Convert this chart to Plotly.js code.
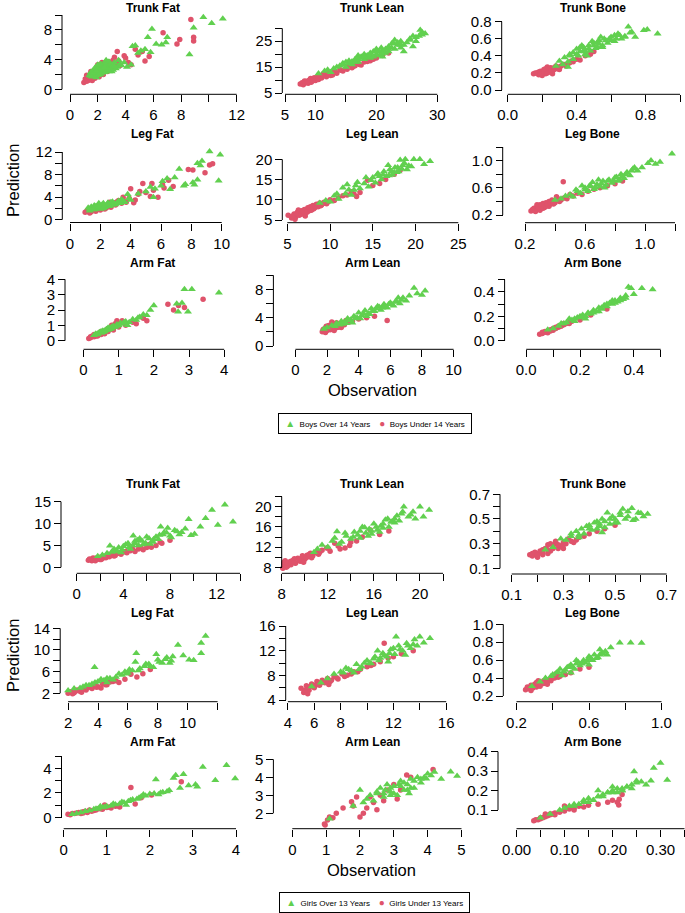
<!DOCTYPE html>
<html><head><meta charset="utf-8">
<script src="https://cdn.plot.ly/plotly-3.0.1.min.js"></script>
<style>html,body{margin:0;padding:0;background:#fff}#chart{width:685px;height:913px}</style>
</head><body><div id="chart"></div>
<script>
// ===== DATA (Observation = x, Prediction = y) =====
// Boys figure
const bTrunkFat_overX=[1.4,1.5,1.6,1.7,1.8,1.9,2.0,2.0,2.1,2.2,2.3,2.3,2.4,2.5,2.6,2.7,2.8,2.9,3.0,3.1,3.2,3.4,3.5,3.7,3.9,4.1,4.4,4.5,4.7,4.9,5.1,5.4,5.6,5.8,5.9,6.2,6.6,6.9,7.0,8.6,8.9,9.6,10.2,11.0,1.6,1.9,2.2,2.6,2.4,3.0,1.7,2.1,1.5,1.7,1.8,2.0,2.1,2.2,2.4,2.5,2.6,2.8,2.9,3.1,3.3,3.6,1.9,2.3,2.7,3.2,2.0,2.5];
const bTrunkFat_overY=[1.9,2.3,1.7,2.6,2.1,2.9,2.4,1.9,3.1,2.6,2.2,3.3,2.8,3.5,2.5,3.0,3.7,2.8,3.3,2.6,3.6,3.0,3.9,3.2,3.6,3.0,3.3,5.8,5.9,4.9,5.2,5.4,7.0,5.0,8.1,6.1,6.0,6.3,7.0,4.7,8.3,9.7,8.9,9.5,2.4,1.6,2.0,3.9,2.3,2.4,1.8,2.3,1.8,2.2,2.9,2.7,2.0,3.4,3.0,2.3,3.3,2.4,3.4,3.2,2.8,3.4,2.5,2.6,2.7,3.1,3.3,2.9];
const bTrunkFat_underX=[1.0,1.1,1.2,1.3,1.4,1.5,1.6,1.7,1.8,1.9,2.0,2.1,2.2,2.3,2.5,2.6,2.8,3.0,3.2,3.4,3.4,3.6,3.9,4.0,4.4,4.7,5.2,5.4,5.7,6.7,7.7,7.9,8.7,8.9,8.9,1.2,1.5,2.4,2.0,2.9,1.3,1.8,1.4,1.6,1.9,2.1,2.4,2.7,3.1,3.5,4.2,4.9];
const bTrunkFat_underY=[0.9,1.4,1.1,1.6,1.3,1.8,1.2,2.0,1.5,2.3,1.9,2.4,2.1,3.6,2.6,3.0,3.7,3.5,4.3,5.1,3.4,3.2,4.5,4.2,3.3,5.4,5.1,3.8,4.4,7.6,6.1,6.7,9.4,7.0,6.5,1.9,2.4,2.0,3.3,2.7,1.2,1.7,1.6,1.5,2.0,1.7,2.8,2.4,3.9,3.8,3.6,4.6];

const bTrunkLean_overX=[10.5,11.5,12.5,13.0,14.0,14.5,15.0,15.5,16.0,16.5,17.0,17.5,18.0,18.0,18.5,19.0,19.5,20.0,20.0,20.5,21.0,21.5,22.0,22.0,22.5,23.0,23.0,23.5,24.0,24.5,25.0,25.5,26.0,26.5,27.0,27.5,28.0,27.2,26.0,24.0,17.0,15.0,19.0,21.0,16.8,18.6,20.8,22.8,12.0,13.5,14.5,15.5,16.0,17.0,17.5,18.5,19.0,19.5,20.5,21.0,21.5,22.5,23.5,24.5,25.5,26.5,27.5,16.5,18.0,20.0,22.0,24.0];
const bTrunkLean_overY=[12.5,13.5,13.0,14.5,15.5,16.5,15.0,17.5,16.0,18.0,17.0,19.0,18.0,20.0,19.5,18.5,21.0,20.0,22.0,19.5,21.5,20.5,23.0,21.0,24.0,22.0,25.5,23.5,22.5,21.0,24.5,25.5,23.0,26.5,27.0,28.5,28.0,29.3,27.0,25.0,19.5,17.0,20.5,19.0,17.8,19.2,22.5,24.2,14.0,15.0,15.8,16.5,17.2,18.0,18.5,18.8,19.8,19.0,21.0,20.2,22.0,22.5,24.5,23.5,26.0,25.0,27.5,17.0,19.0,21.0,22.0,23.5];
const bTrunkLean_underX=[7.5,7.8,8.0,8.3,8.5,8.8,9.0,9.3,9.6,10.0,10.2,10.5,10.8,11.0,11.5,11.8,12.2,12.5,13.0,13.5,14.0,14.5,15.0,15.5,16.0,16.5,17.0,17.5,18.0,19.0,20.0,21.0,22.0,9.2,11.3,12.8,8.2,9.8,10.6,8.7,9.5,10.4,11.2,12.0,13.2,14.2,15.2,16.2,17.2,18.5,19.5];
const bTrunkLean_underY=[8.5,9.0,8.2,8.9,9.5,8.8,10.0,9.2,10.5,9.8,11.0,10.2,11.5,10.8,12.0,11.3,12.5,11.8,13.0,12.6,14.0,13.5,14.5,15.8,14.8,15.5,16.5,15.8,17.0,17.5,18.5,19.5,20.5,10.6,12.4,12.0,9.6,10.9,11.6,9.2,9.6,10.6,11.6,12.2,13.3,13.8,14.2,15.2,16.0,17.2,18.0];

const bTrunkBone_overX=[0.28,0.3,0.32,0.33,0.35,0.36,0.38,0.4,0.41,0.42,0.44,0.45,0.47,0.48,0.5,0.51,0.53,0.55,0.56,0.58,0.6,0.62,0.64,0.66,0.7,0.71,0.74,0.79,0.81,0.87,0.38,0.43,0.46,0.52,0.54,0.59,0.35,0.49,0.62,0.68,0.4,0.42,0.44,0.47,0.5,0.52,0.55,0.57,0.6,0.63,0.65,0.68,0.72,0.36,0.45,0.53];
const bTrunkBone_overY=[0.28,0.34,0.3,0.38,0.33,0.42,0.36,0.48,0.4,0.45,0.5,0.42,0.52,0.46,0.55,0.49,0.58,0.52,0.6,0.55,0.62,0.57,0.66,0.6,0.74,0.67,0.62,0.7,0.71,0.66,0.44,0.52,0.4,0.5,0.62,0.6,0.27,0.57,0.64,0.63,0.42,0.5,0.46,0.48,0.52,0.56,0.5,0.58,0.58,0.6,0.64,0.62,0.68,0.4,0.45,0.54];
const bTrunkBone_underX=[0.15,0.17,0.18,0.19,0.2,0.21,0.22,0.23,0.24,0.25,0.26,0.27,0.28,0.29,0.3,0.32,0.34,0.36,0.38,0.4,0.42,0.45,0.48,0.5,0.2,0.23,0.26,0.18,0.22,0.3,0.16,0.19,0.21,0.23,0.25,0.27,0.31,0.33,0.35,0.37];
const bTrunkBone_underY=[0.19,0.2,0.18,0.22,0.2,0.24,0.19,0.23,0.21,0.26,0.22,0.24,0.28,0.25,0.27,0.3,0.28,0.32,0.33,0.36,0.35,0.4,0.42,0.45,0.17,0.27,0.19,0.21,0.25,0.24,0.2,0.19,0.22,0.2,0.23,0.26,0.28,0.3,0.31,0.34];

const bLegFat_overX=[1.2,1.3,1.4,1.5,1.6,1.7,1.8,1.9,2.0,2.1,2.2,2.3,2.4,2.5,2.6,2.7,2.8,3.0,3.2,3.4,3.6,3.8,4.0,4.5,5.0,5.3,5.5,5.6,6.0,6.1,6.4,6.6,6.9,7.2,7.5,7.6,8.1,8.2,8.4,8.4,8.7,8.6,9.2,9.9,9.8,1.6,2.0,2.6,3.3,1.9,1.3,1.5,1.7,1.9,2.1,2.3,2.5,2.7,2.9,3.1,3.5,3.9,2.2,2.8];
const bLegFat_overY=[2.1,1.6,2.3,1.8,2.5,2.0,2.2,2.7,1.9,2.4,2.9,2.2,2.6,3.0,2.4,2.8,3.2,2.7,3.3,3.6,3.1,4.5,3.5,4.6,5.0,5.8,4.0,5.5,6.0,6.8,7.3,5.4,7.5,9.0,6.0,6.3,6.6,6.2,7.1,10.0,10.4,9.6,12.1,11.5,6.9,1.8,2.1,2.5,2.9,2.9,1.9,2.0,2.4,2.3,2.6,2.5,2.7,3.1,2.9,3.0,3.3,3.8,2.0,2.6];
const bLegFat_underX=[1.0,1.2,1.4,1.5,1.7,1.8,2.0,2.1,2.3,2.5,2.7,2.9,3.0,3.2,3.5,3.7,4.0,4.2,4.3,4.5,4.8,5.0,5.3,5.4,5.5,5.8,6.1,6.2,6.5,6.8,7.8,8.1,8.9,9.2,9.4,1.3,1.9,2.6,3.4,2.2,1.1,1.6,2.4,2.8,3.1,3.6,3.9,4.6];
const bLegFat_underY=[1.3,1.6,1.4,1.9,1.5,2.0,1.7,2.3,1.9,2.5,2.2,3.0,2.6,3.4,4.0,3.1,5.5,3.0,3.5,4.5,6.4,4.8,4.1,6.4,5.2,4.0,6.2,5.6,7.0,5.9,8.9,8.8,8.3,9.7,9.9,1.2,2.5,3.1,2.9,2.0,1.5,1.8,2.1,2.7,3.2,3.3,3.8,5.0];

const bLegLean_overX=[8.8,9.5,10.0,10.5,11.0,11.5,11.8,12.2,12.5,13.0,13.5,14.0,14.5,15.0,15.3,15.6,16.0,16.3,16.6,17.0,17.3,17.6,18.0,18.2,18.5,18.8,19.0,19.8,20.5,21.0,21.7,16.8,15.5,14.2,13.2,17.8,19.5,12.0,14.8,15.8,16.2,16.9,17.2,17.5,17.9,18.4,18.7,19.2,10.8,12.8];
const bLegLean_overY=[9.2,9.8,9.5,11.0,10.2,13.0,11.5,12.5,11.2,13.5,12.8,14.0,13.2,15.5,14.2,16.5,15.0,17.0,15.8,17.5,16.2,18.0,17.0,19.8,18.5,20.0,17.5,20.0,20.0,18.8,19.5,18.5,16.2,15.5,14.3,16.8,18.2,13.8,14.8,15.8,16.2,16.0,17.0,16.8,18.0,17.6,19.0,18.4,11.5,12.4];
const bLegLean_underX=[5.1,5.5,5.8,6.0,6.2,6.4,6.5,6.7,6.9,7.0,7.2,7.4,7.5,7.7,7.9,8.0,8.2,8.4,8.6,8.8,9.0,9.3,9.6,10.0,10.5,11.0,11.5,12.0,12.5,12.8,13.1,13.5,14.4,15.0,15.8,16.5,17.5,18.2,5.9,6.3,7.1,8.1,5.6,6.1,6.6,6.8,7.3,7.6,7.8,8.3,8.5,8.9,9.2,9.8];
const bLegLean_underY=[6.2,5.5,6.5,5.8,7.0,6.2,6.8,7.3,6.5,7.6,7.0,8.0,7.2,8.3,7.6,8.6,8.0,8.9,8.3,9.2,8.7,9.4,9.0,10.0,9.8,10.5,11.0,11.2,12.0,11.4,10.8,11.8,14.8,13.5,14.0,15.0,16.3,17.3,5.2,7.5,6.0,7.8,6.0,6.6,6.4,7.1,6.9,7.9,7.4,8.4,8.7,8.5,9.1,9.5];

const bLegBone_overX=[0.4,0.44,0.47,0.5,0.52,0.55,0.57,0.6,0.62,0.64,0.66,0.68,0.7,0.72,0.74,0.76,0.78,0.8,0.82,0.84,0.86,0.88,0.9,0.92,0.95,0.98,1.02,1.04,1.07,1.1,1.18,0.58,0.65,0.73,0.83,0.93,0.54,0.69,0.6,0.63,0.67,0.71,0.75,0.79,0.81,0.85,0.87,0.91];
const bLegBone_overY=[0.42,0.44,0.48,0.5,0.47,0.55,0.52,0.6,0.55,0.62,0.58,0.65,0.62,0.7,0.64,0.72,0.67,0.75,0.7,0.8,0.74,0.83,0.78,0.88,0.85,0.9,0.96,1.0,0.95,0.98,1.1,0.63,0.68,0.6,0.72,0.9,0.57,0.72,0.57,0.63,0.6,0.66,0.7,0.71,0.76,0.77,0.8,0.85];
const bLegBone_underX=[0.24,0.26,0.27,0.28,0.29,0.3,0.31,0.32,0.33,0.34,0.35,0.36,0.37,0.38,0.4,0.42,0.44,0.46,0.48,0.5,0.52,0.55,0.58,0.62,0.66,0.7,0.75,0.8,0.85,0.455,0.3,0.33,0.28,0.36,0.41,0.25,0.27,0.29,0.31,0.32,0.34,0.35,0.37,0.39,0.43];
const bLegBone_underY=[0.26,0.3,0.28,0.33,0.3,0.35,0.32,0.37,0.31,0.38,0.34,0.4,0.36,0.42,0.38,0.44,0.42,0.45,0.44,0.5,0.48,0.52,0.5,0.55,0.58,0.6,0.63,0.66,0.7,0.69,0.27,0.34,0.35,0.33,0.47,0.28,0.25,0.31,0.34,0.3,0.33,0.36,0.38,0.36,0.4];

const bArmFat_overX=[0.3,0.35,0.4,0.45,0.5,0.55,0.6,0.65,0.7,0.75,0.8,0.85,0.9,0.95,1.0,1.05,1.1,1.2,1.3,1.4,1.5,1.6,1.7,1.8,1.9,2.0,2.65,2.69,2.8,2.97,2.87,3.08,3.85,0.5,0.7,1.25,1.55,0.4,0.55,0.65,0.75,0.85,0.95,1.05,1.15,0.6,0.8];
const bArmFat_overY=[0.35,0.45,0.4,0.55,0.5,0.65,0.6,0.75,0.7,0.85,0.8,0.95,0.9,1.05,1.0,1.15,1.1,1.25,1.2,1.4,1.35,1.55,1.7,1.65,2.0,2.3,2.4,1.89,2.45,1.89,3.35,3.35,3.13,0.6,0.85,1.0,1.5,0.45,0.55,0.7,0.75,0.9,0.95,1.1,1.2,0.65,0.9];
const bArmFat_underX=[0.15,0.2,0.25,0.3,0.35,0.4,0.45,0.5,0.55,0.6,0.65,0.7,0.75,0.8,0.85,0.9,1.0,1.1,1.2,1.4,1.5,1.7,1.8,2.4,2.56,2.7,2.87,3.4,0.3,0.5,0.7,0.95,0.2,0.35,0.45,0.6,0.8,1.0];
const bArmFat_underY=[0.15,0.2,0.3,0.25,0.4,0.3,0.5,0.4,0.6,0.5,0.7,0.6,0.8,1.0,0.7,1.1,0.9,1.3,1.0,1.2,1.1,1.46,1.3,2.37,2.0,2.3,2.17,2.7,0.4,0.6,0.8,1.3,0.25,0.3,0.45,0.45,0.75,1.05];

const bArmLean_overX=[1.8,2.0,2.3,2.6,2.9,3.1,3.3,3.5,3.7,3.9,4.0,4.2,4.4,4.6,4.8,5.0,5.2,5.4,5.6,5.8,6.0,6.2,6.4,6.6,6.8,7.0,7.2,7.5,7.7,8.0,8.2,4.1,4.7,5.3,5.9,6.5,3.6,2.8,3.0,3.4,3.8,4.3,4.5,4.9,5.1,5.5,5.7,6.1,6.3,6.7,2.5,3.2];
const bArmLean_overY=[2.4,2.6,2.9,3.2,3.5,3.4,3.9,3.7,4.2,4.0,4.7,4.3,5.0,4.6,5.3,4.9,5.6,5.1,5.9,5.4,6.1,5.7,6.3,6.0,6.8,6.4,7.1,8.2,7.4,7.2,7.8,3.9,4.5,5.5,5.9,6.8,3.3,3.0,3.1,3.6,3.9,4.6,4.2,5.0,5.3,5.4,5.6,5.9,6.2,6.5,2.8,3.2];
const bArmLean_underX=[1.7,1.8,1.9,2.0,2.0,2.1,2.2,2.3,2.4,2.5,2.6,2.7,2.8,3.0,3.2,3.4,3.6,4.0,4.5,5.0,5.8,1.85,2.15,2.45,2.9,2.3,1.75,1.9,2.05,2.2,2.35,2.5,2.65,2.8,3.1,1.95];
const bArmLean_underY=[2.0,2.4,1.9,2.6,2.2,2.9,2.3,2.7,3.1,2.5,3.3,2.8,3.0,3.2,3.6,3.4,3.5,3.8,4.0,4.2,3.6,2.1,2.5,2.2,2.6,3.4,2.3,2.1,2.4,2.7,2.4,2.9,2.6,2.7,3.0,2.8];

const bArmBone_overX=[0.08,0.1,0.12,0.14,0.15,0.17,0.18,0.19,0.2,0.21,0.22,0.23,0.24,0.25,0.26,0.27,0.28,0.29,0.3,0.31,0.32,0.33,0.34,0.35,0.36,0.37,0.38,0.39,0.43,0.47,0.16,0.22,0.27,0.32,0.4,0.13,0.18,0.2,0.23,0.25,0.28,0.3,0.33,0.35,0.37];
const bArmBone_overY=[0.09,0.1,0.12,0.14,0.15,0.17,0.16,0.19,0.2,0.21,0.2,0.23,0.22,0.25,0.24,0.27,0.26,0.29,0.28,0.31,0.3,0.33,0.32,0.35,0.34,0.37,0.44,0.43,0.43,0.42,0.18,0.18,0.24,0.33,0.38,0.14,0.18,0.19,0.22,0.23,0.27,0.3,0.31,0.33,0.35];
const bArmBone_underX=[0.05,0.06,0.07,0.08,0.08,0.09,0.1,0.1,0.11,0.12,0.13,0.14,0.15,0.16,0.17,0.2,0.24,0.3,0.07,0.12,0.06,0.09,0.11,0.13,0.14,0.16];
const bArmBone_underY=[0.053,0.06,0.07,0.065,0.08,0.09,0.085,0.1,0.1,0.11,0.12,0.13,0.14,0.15,0.16,0.17,0.21,0.26,0.075,0.12,0.07,0.08,0.11,0.12,0.14,0.14];

// Girls figure
const gTrunkFat_overX=[1.8,2.2,2.6,2.85,3.0,3.3,3.6,3.9,4.2,4.5,4.85,5.0,5.3,5.6,5.9,6.2,6.5,6.8,7.0,7.2,7.4,7.7,8.1,8.4,8.8,9.3,9.6,9.8,10.1,10.6,11.05,11.6,12.1,12.7,13.4,3.8,4.6,5.4,6.3,7.8,3.2,3.5,4.0,4.4,4.8,5.2,5.7,6.0,6.6,7.1,7.5,8.0,8.6,9.0,5.0,6.5];
const gTrunkFat_overY=[2.5,2.8,3.2,4.9,3.5,3.8,4.5,4.0,5.2,4.6,7.2,5.5,5.0,6.0,5.5,6.6,6.0,7.0,6.4,9.3,7.5,7.9,6.8,8.5,7.5,8.8,11.0,7.3,7.6,9.3,11.2,13.1,9.7,14.3,10.4,3.4,4.2,6.6,5.3,9.0,4.2,3.6,4.8,5.5,5.0,6.2,5.2,7.0,6.4,7.4,8.0,7.2,8.2,8.0,6.0,5.8];
const gTrunkFat_underX=[1.0,1.2,1.3,1.5,1.6,1.8,1.9,2.0,2.2,2.3,2.5,2.6,2.8,3.0,3.2,3.4,3.6,3.8,4.0,4.3,4.6,5.0,5.3,5.7,6.0,6.4,6.8,7.15,7.3,8.0,1.4,2.1,2.7,3.3,1.1,1.4,1.7,2.0,2.4,2.9,3.5,4.2,4.8,5.5,6.2,1.6,2.2];
const gTrunkFat_underY=[1.6,1.8,1.5,2.0,1.7,2.2,1.9,2.3,2.0,2.5,2.2,2.7,2.4,2.9,2.6,3.1,3.3,3.0,3.5,3.3,3.8,3.6,4.2,4.0,4.5,4.6,5.0,5.8,5.5,6.2,2.1,1.8,3.0,2.7,1.9,1.6,2.1,1.8,2.3,2.7,3.2,3.6,4.1,4.6,5.2,1.5,2.3];

const gTrunkLean_overX=[10.8,11.1,11.5,12.0,12.4,12.8,13.2,13.6,14.0,14.3,14.6,15.0,15.3,15.6,16.0,16.3,16.6,17.0,17.3,17.6,18.0,18.2,18.6,19.0,19.2,19.6,20.0,20.3,20.8,14.8,15.8,16.8,17.8,13.0,12.6,18.5,13.5,14.2,14.8,15.2,15.8,16.2,16.8,17.2,17.8,18.4,19.4,15.5,16.5,17.5];
const gTrunkLean_overY=[11.0,11.6,12.4,12.0,13.2,15.1,13.0,14.2,13.6,15.0,14.4,16.0,14.8,15.6,16.6,15.4,16.2,17.4,16.0,17.0,18.2,17.2,20.0,18.0,18.4,17.6,20.0,18.0,19.35,13.8,14.6,15.8,16.8,12.6,13.8,19.0,14.8,14.0,15.2,15.9,15.2,16.0,16.6,17.6,17.6,18.6,19.0,14.2,15.0,17.0];
const gTrunkLean_underX=[8.1,8.2,8.3,8.5,8.6,8.8,9.0,9.2,9.4,9.6,9.8,10.0,10.2,10.3,10.5,10.7,11.0,11.2,11.5,11.9,12.2,12.6,13.07,13.5,13.9,14.5,15.0,15.7,16.5,17.3,8.4,9.1,9.9,10.6,8.2,8.5,8.8,9.1,9.5,9.8,10.1,10.4,10.9,11.3,12.0,12.9,14.0];
const gTrunkLean_underY=[7.8,8.6,9.3,8.2,9.0,8.5,9.4,8.8,9.8,9.2,10.0,9.6,10.4,10.1,10.8,10.3,11.0,10.6,11.4,11.8,11.2,12.75,11.6,11.8,12.3,13.2,14.0,15.4,14.5,15.2,8.0,9.7,9.0,9.9,9.0,8.8,9.2,8.9,9.5,10.3,9.9,10.6,10.9,11.0,11.8,12.2,13.0];

const gTrunkBone_overX=[0.23,0.26,0.29,0.31,0.33,0.35,0.37,0.38,0.4,0.41,0.42,0.44,0.45,0.46,0.47,0.48,0.5,0.51,0.52,0.54,0.55,0.565,0.57,0.59,0.6,0.626,0.45,0.39,0.53,0.43,0.49,0.36,0.33,0.36,0.4,0.43,0.46,0.48,0.5,0.52,0.55,0.58,0.61,0.44];
const gTrunkBone_overY=[0.25,0.27,0.34,0.33,0.36,0.4,0.42,0.38,0.45,0.41,0.47,0.44,0.5,0.43,0.55,0.46,0.5,0.47,0.53,0.5,0.56,0.587,0.49,0.55,0.546,0.54,0.39,0.44,0.58,0.48,0.52,0.35,0.38,0.37,0.42,0.42,0.48,0.5,0.47,0.55,0.52,0.5,0.52,0.46];
const gTrunkBone_underX=[0.17,0.18,0.19,0.2,0.21,0.22,0.23,0.24,0.25,0.26,0.27,0.28,0.29,0.3,0.31,0.32,0.34,0.36,0.38,0.4,0.43,0.46,0.5,0.2,0.24,0.27,0.3,0.22,0.18,0.2,0.22,0.24,0.26,0.28,0.3,0.33,0.35,0.25];
const gTrunkBone_underY=[0.21,0.2,0.23,0.22,0.24,0.21,0.26,0.29,0.24,0.27,0.3,0.26,0.28,0.26,0.3,0.34,0.31,0.35,0.36,0.38,0.4,0.42,0.45,0.19,0.22,0.32,0.29,0.25,0.22,0.21,0.23,0.25,0.26,0.29,0.31,0.32,0.33,0.3];

const gLegFat_overX=[2.0,2.4,2.8,3.2,3.6,3.77,4.0,4.4,4.8,5.2,5.6,6.0,6.3,6.56,6.8,7.1,7.4,7.7,8.0,8.3,8.6,8.9,9.35,9.7,10.1,10.4,10.9,10.9,11.2,5.0,6.5,7.9,8.8,4.6,5.8,3.0,3.4,3.8,4.2,4.6,5.4,5.9,6.1,6.7,7.2,7.5,8.1,8.5,9.0];
const gLegFat_overY=[2.5,2.9,3.0,3.5,3.7,6.8,4.2,4.4,4.8,5.0,5.4,5.8,6.2,9.4,6.6,7.0,7.4,6.8,8.2,7.6,8.6,8.0,10.9,9.0,8.2,8.1,11.3,9.4,12.6,4.5,7.8,9.2,7.6,4.0,6.0,3.2,3.5,4.0,4.6,4.8,5.6,5.6,6.4,6.2,7.4,7.0,7.8,8.3,8.8];
const gLegFat_underX=[2.0,2.2,2.4,2.6,2.8,3.0,3.2,3.4,3.6,3.8,4.0,4.3,4.6,5.0,5.4,5.8,6.2,6.6,7.0,7.5,2.3,2.9,3.5,4.2,2.1,2.5,2.7,3.1,3.3,3.7,3.9,4.5,4.8,5.2];
const gLegFat_underY=[2.0,2.3,2.1,2.6,2.4,2.9,2.6,3.2,2.9,3.5,3.2,3.8,3.6,4.2,4.0,4.6,5.5,5.0,5.6,6.4,1.9,2.2,3.4,3.0,2.2,2.4,2.5,2.8,3.0,3.3,3.1,3.6,4.1,4.3];

const gLegLean_overX=[5.8,6.5,7.0,7.5,8.0,8.4,8.8,9.2,9.6,10.0,10.3,10.6,10.9,11.2,11.5,11.8,12.1,12.4,12.7,13.0,13.3,13.6,13.8,14.0,14.3,14.77,9.0,10.8,12.2,12.9,11.6,8.2,8.6,9.4,9.8,10.2,10.5,11.0,11.3,11.7,12.0,12.5,13.1,13.5];
const gLegLean_overY=[6.2,6.8,7.5,8.2,8.6,9.2,8.8,9.8,9.4,10.4,9.9,11.0,10.4,11.6,11.0,12.2,11.4,12.8,12.0,13.2,12.4,13.8,12.8,14.26,13.3,14.0,8.4,12.0,14.26,11.3,10.2,8.4,9.0,9.0,10.0,10.0,10.7,10.8,11.2,11.6,12.4,12.2,12.8,13.0];
const gLegLean_underX=[5.0,5.2,5.4,5.6,5.8,6.0,6.2,6.4,6.6,6.8,7.0,7.2,7.5,7.8,8.1,8.5,9.0,9.5,10.0,10.5,11.0,11.3,11.6,12.0,12.6,13.5,5.5,6.3,7.1,5.3,5.7,6.1,6.5,6.9,7.3,7.7,8.3,8.8,9.3,10.3];
const gLegLean_underY=[5.9,5.2,6.3,5.6,6.6,6.0,7.0,6.4,7.2,6.8,7.5,7.0,7.8,7.4,8.2,8.0,8.6,9.0,9.4,9.8,10.2,13.2,10.8,11.0,11.5,12.0,5.0,6.8,6.5,5.6,6.2,6.4,6.8,7.0,7.2,7.6,7.8,8.2,8.6,9.6];

const gLegBone_overX=[0.285,0.33,0.36,0.39,0.42,0.44,0.46,0.48,0.5,0.52,0.54,0.55,0.57,0.58,0.6,0.62,0.63,0.65,0.67,0.69,0.7,0.72,0.77,0.83,0.89,0.45,0.53,0.6,0.66,0.5,0.4,0.43,0.47,0.49,0.51,0.53,0.56,0.59,0.61,0.64,0.66,0.68];
const gLegBone_overY=[0.31,0.36,0.4,0.42,0.46,0.5,0.47,0.52,0.55,0.5,0.58,0.54,0.6,0.57,0.64,0.6,0.66,0.63,0.68,0.7,0.66,0.74,0.795,0.795,0.79,0.43,0.6,0.55,0.72,0.46,0.44,0.47,0.49,0.53,0.52,0.56,0.56,0.6,0.62,0.62,0.66,0.67];
const gLegBone_underX=[0.25,0.26,0.27,0.28,0.29,0.3,0.31,0.32,0.33,0.34,0.35,0.36,0.38,0.4,0.42,0.44,0.47,0.5,0.55,0.6,0.28,0.32,0.37,0.26,0.28,0.3,0.31,0.33,0.35,0.37,0.39,0.41,0.43];
const gLegBone_underY=[0.27,0.3,0.28,0.32,0.29,0.33,0.3,0.35,0.31,0.34,0.37,0.35,0.38,0.4,0.45,0.42,0.44,0.46,0.5,0.52,0.26,0.37,0.33,0.29,0.3,0.31,0.35,0.33,0.34,0.36,0.37,0.4,0.41];

const gArmFat_overX=[0.2,0.3,0.4,0.5,0.6,0.7,0.8,0.9,1.0,1.1,1.2,1.3,1.4,1.5,1.6,1.7,1.8,1.9,2.0,2.14,2.25,2.4,2.55,2.6,2.78,3.06,3.23,3.52,3.78,3.98,3.1,2.2,1.45,0.85,0.75,0.95,1.15,1.35,1.55,1.75,1.85,2.1,2.3,2.45,2.7,2.9];
const gArmFat_overY=[0.25,0.3,0.4,0.5,0.55,0.65,0.7,0.8,0.9,0.95,1.05,1.1,1.2,1.3,1.45,1.5,1.7,1.75,1.9,3.09,2.0,2.1,3.2,3.44,3.52,2.68,4.1,3.03,4.25,3.17,2.5,1.85,1.0,0.9,0.7,0.85,1.1,1.25,1.4,1.6,1.85,1.95,2.05,2.2,2.4,2.6];
const gArmFat_underX=[0.1,0.15,0.2,0.3,0.35,0.4,0.5,0.55,0.6,0.7,0.8,0.9,1.0,1.1,1.2,1.3,1.56,1.66,1.8,2.04,2.73,0.45,0.75,0.95,0.25,0.45,0.65,0.85,1.05,1.15,1.25];
const gArmFat_underY=[0.25,0.2,0.3,0.35,0.4,0.3,0.5,0.4,0.6,0.55,0.7,0.65,0.8,0.75,0.9,0.85,2.44,1.08,1.6,1.81,2.9,0.45,0.6,1.0,0.3,0.35,0.5,0.7,0.85,1.0,0.95];

const gArmLean_overX=[1.1,1.8,2.0,2.2,2.4,2.5,2.6,2.7,2.8,2.9,3.0,3.1,3.2,3.3,3.4,3.5,3.6,3.7,3.8,3.96,4.0,4.2,4.4,4.68,4.87,2.3,2.75,3.15,3.45,3.9,2.1,2.5,2.7,2.9,3.0,3.2,3.3,3.5,3.6,3.8,4.1,3.4,2.9];
const gArmLean_overY=[1.7,2.4,3.3,2.8,2.7,3.1,3.4,2.9,3.6,3.2,3.5,3.0,3.8,3.3,3.6,3.9,3.4,4.0,3.7,3.92,4.2,4.3,3.9,4.31,4.07,3.0,3.3,3.6,3.1,4.0,2.6,3.2,3.1,3.4,3.1,3.5,3.7,3.4,3.8,3.9,4.1,3.3,3.0];
const gArmLean_underX=[0.95,0.97,1.04,1.1,1.2,1.3,1.5,1.75,1.8,1.9,2.0,2.1,2.2,2.3,2.4,2.5,2.6,2.7,2.8,3.0,3.1,3.2,3.38,3.5,4.16];
const gArmLean_underY=[1.4,1.35,1.63,1.8,1.75,2.0,2.3,2.64,2.4,2.9,1.8,2.0,2.3,2.9,2.6,2.2,3.0,2.7,3.3,3.6,2.8,3.3,4.13,4.0,4.44];

const gArmBone_overX=[0.05,0.07,0.09,0.1,0.11,0.12,0.13,0.14,0.15,0.16,0.17,0.18,0.19,0.2,0.21,0.22,0.23,0.24,0.245,0.25,0.26,0.27,0.28,0.286,0.3,0.314,0.15,0.2,0.22,0.17,0.12,0.14,0.16,0.17,0.18,0.19,0.2,0.21,0.22,0.23,0.24,0.25];
const gArmBone_overY=[0.06,0.08,0.1,0.11,0.12,0.13,0.13,0.14,0.16,0.15,0.17,0.18,0.19,0.2,0.19,0.21,0.22,0.21,0.298,0.25,0.246,0.23,0.25,0.316,0.342,0.255,0.14,0.22,0.2,0.2,0.12,0.15,0.15,0.17,0.17,0.19,0.19,0.21,0.2,0.22,0.23,0.24];
const gArmBone_underX=[0.036,0.045,0.05,0.055,0.06,0.065,0.07,0.075,0.08,0.09,0.1,0.11,0.12,0.13,0.14,0.15,0.17,0.19,0.2,0.21,0.213,0.214,0.22,0.06,0.1,0.04,0.05,0.06,0.07,0.08,0.09,0.1,0.11,0.12,0.13];
const gArmBone_underY=[0.045,0.05,0.055,0.06,0.065,0.07,0.075,0.08,0.085,0.09,0.1,0.105,0.11,0.12,0.115,0.125,0.13,0.14,0.15,0.14,0.126,0.155,0.18,0.08,0.12,0.05,0.06,0.07,0.08,0.075,0.09,0.095,0.11,0.1,0.12];

// ===== Tick values / labels =====
const bTrunkFat_xt=[0,2,4,6,8,10,12], bTrunkFat_xl=['0','2','4','6','8','','12'];
const bTrunkFat_yt=[0,2,4,6,8,10], bTrunkFat_yl=['0','','4','','8',''];
const bTrunkLean_xt=[5,10,15,20,25,30], bTrunkLean_xl=['5','10','','20','','30'];
const bTrunkLean_yt=[5,10,15,20,25,30], bTrunkLean_yl=['5','','15','','25',''];
const bTrunkBone_xt=[0,0.2,0.4,0.6,0.8,1.0], bTrunkBone_xl=['0.0','','0.4','','0.8',''];
const bTrunkBone_yt=[0,0.2,0.4,0.6,0.8], bTrunkBone_yl=['0.0','0.2','0.4','0.6','0.8'];
const bLegFat_xt=[0,2,4,6,8,10], bLegFat_xl=['0','2','4','6','8','10'];
const bLegFat_yt=[0,2,4,6,8,10,12], bLegFat_yl=['0','','4','','8','','12'];
const bLegLean_xt=[5,10,15,20,25], bLegLean_xl=['5','10','15','20','25'];
const bLegLean_yt=[5,10,15,20], bLegLean_yl=['5','10','15','20'];
const bLegBone_xt=[0.2,0.4,0.6,0.8,1.0,1.2], bLegBone_xl=['0.2','','0.6','','1.0',''];
const bLegBone_yt=[0.2,0.4,0.6,0.8,1.0,1.2], bLegBone_yl=['0.2','','0.6','','1.0',''];
const bArmFat_xt=[0,1,2,3,4], bArmFat_xl=['0','1','2','3','4'];
const bArmFat_yt=[0,1,2,3,4], bArmFat_yl=['0','1','2','3','4'];
const bArmLean_xt=[0,2,4,6,8,10], bArmLean_xl=['0','2','4','6','8','10'];
const bArmLean_yt=[0,2,4,6,8,10], bArmLean_yl=['0','','4','','8',''];
const bArmBone_xt=[0,0.1,0.2,0.3,0.4,0.5], bArmBone_xl=['0.0','','0.2','','0.4',''];
const bArmBone_yt=[0,0.1,0.2,0.3,0.4,0.5], bArmBone_yl=['0.0','','0.2','','0.4',''];

const gTrunkFat_xt=[0,2,4,6,8,10,12,14], gTrunkFat_xl=['0','','4','','8','','12',''];
const gTrunkFat_yt=[0,5,10,15], gTrunkFat_yl=['0','5','10','15'];
const gTrunkLean_xt=[8,10,12,14,16,18,20,22], gTrunkLean_xl=['8','','12','','16','','20',''];
const gTrunkLean_yt=[8,10,12,14,16,18,20,22], gTrunkLean_yl=['8','','12','','16','','20',''];
const gTrunkBone_xt=[0.1,0.2,0.3,0.4,0.5,0.6,0.7], gTrunkBone_xl=['0.1','','0.3','','0.5','','0.7'];
const gTrunkBone_yt=[0.1,0.2,0.3,0.4,0.5,0.6,0.7], gTrunkBone_yl=['0.1','','0.3','','0.5','','0.7'];
const gLegFat_xt=[2,4,6,8,10,12], gLegFat_xl=['2','4','6','8','10',''];
const gLegFat_yt=[2,4,6,8,10,12,14], gLegFat_yl=['2','','6','','10','','14'];
const gLegLean_xt=[4,6,8,10,12,14,16], gLegLean_xl=['4','6','8','','12','','16'];
const gLegLean_yt=[4,6,8,10,12,14,16], gLegLean_yl=['4','','8','','12','','16'];
const gLegBone_xt=[0.2,0.4,0.6,0.8,1.0], gLegBone_xl=['0.2','','0.6','','1.0'];
const gLegBone_yt=[0.2,0.4,0.6,0.8,1.0], gLegBone_yl=['0.2','0.4','0.6','0.8','1.0'];
const gArmFat_xt=[0,1,2,3,4], gArmFat_xl=['0','1','2','3','4'];
const gArmFat_yt=[0,1,2,3,4,5], gArmFat_yl=['0','','2','','4',''];
const gArmLean_xt=[0,1,2,3,4,5], gArmLean_xl=['0','1','2','3','4','5'];
const gArmLean_yt=[2,3,4,5], gArmLean_yl=['2','3','4','5'];
const gArmBone_xt=[0,0.05,0.1,0.15,0.2,0.25,0.3,0.35], gArmBone_xl=['0.00','','0.10','','0.20','','0.30',''];
const gArmBone_yt=[0.1,0.2,0.3,0.4], gArmBone_yl=['0.1','0.2','0.3','0.4'];

const titles=['Trunk Fat','Trunk Lean','Trunk Bone','Leg Fat','Leg Lean','Leg Bone','Arm Fat','Arm Lean','Arm Bone'];
const boysNames=['Boys Over 14 Years','Boys Under 14 Years'];
const girlsNames=['Girls Over 13 Years','Girls Under 13 Years'];

// ===== Build =====
const W=685,H=913;
const FONT='"Liberation Sans", Arial, Helvetica, sans-serif';
const GREEN='#61D04F', RED='#DF536B';

const panels=[
 [bTrunkFat_overX,bTrunkFat_overY,bTrunkFat_underX,bTrunkFat_underY,bTrunkFat_xt,bTrunkFat_xl,bTrunkFat_yt,bTrunkFat_yl],
 [bTrunkLean_overX,bTrunkLean_overY,bTrunkLean_underX,bTrunkLean_underY,bTrunkLean_xt,bTrunkLean_xl,bTrunkLean_yt,bTrunkLean_yl],
 [bTrunkBone_overX,bTrunkBone_overY,bTrunkBone_underX,bTrunkBone_underY,bTrunkBone_xt,bTrunkBone_xl,bTrunkBone_yt,bTrunkBone_yl],
 [bLegFat_overX,bLegFat_overY,bLegFat_underX,bLegFat_underY,bLegFat_xt,bLegFat_xl,bLegFat_yt,bLegFat_yl],
 [bLegLean_overX,bLegLean_overY,bLegLean_underX,bLegLean_underY,bLegLean_xt,bLegLean_xl,bLegLean_yt,bLegLean_yl],
 [bLegBone_overX,bLegBone_overY,bLegBone_underX,bLegBone_underY,bLegBone_xt,bLegBone_xl,bLegBone_yt,bLegBone_yl],
 [bArmFat_overX,bArmFat_overY,bArmFat_underX,bArmFat_underY,bArmFat_xt,bArmFat_xl,bArmFat_yt,bArmFat_yl],
 [bArmLean_overX,bArmLean_overY,bArmLean_underX,bArmLean_underY,bArmLean_xt,bArmLean_xl,bArmLean_yt,bArmLean_yl],
 [bArmBone_overX,bArmBone_overY,bArmBone_underX,bArmBone_underY,bArmBone_xt,bArmBone_xl,bArmBone_yt,bArmBone_yl],
 [gTrunkFat_overX,gTrunkFat_overY,gTrunkFat_underX,gTrunkFat_underY,gTrunkFat_xt,gTrunkFat_xl,gTrunkFat_yt,gTrunkFat_yl],
 [gTrunkLean_overX,gTrunkLean_overY,gTrunkLean_underX,gTrunkLean_underY,gTrunkLean_xt,gTrunkLean_xl,gTrunkLean_yt,gTrunkLean_yl],
 [gTrunkBone_overX,gTrunkBone_overY,gTrunkBone_underX,gTrunkBone_underY,gTrunkBone_xt,gTrunkBone_xl,gTrunkBone_yt,gTrunkBone_yl],
 [gLegFat_overX,gLegFat_overY,gLegFat_underX,gLegFat_underY,gLegFat_xt,gLegFat_xl,gLegFat_yt,gLegFat_yl],
 [gLegLean_overX,gLegLean_overY,gLegLean_underX,gLegLean_underY,gLegLean_xt,gLegLean_xl,gLegLean_yt,gLegLean_yl],
 [gLegBone_overX,gLegBone_overY,gLegBone_underX,gLegBone_underY,gLegBone_xt,gLegBone_xl,gLegBone_yt,gLegBone_yl],
 [gArmFat_overX,gArmFat_overY,gArmFat_underX,gArmFat_underY,gArmFat_xt,gArmFat_xl,gArmFat_yt,gArmFat_yl],
 [gArmLean_overX,gArmLean_overY,gArmLean_underX,gArmLean_underY,gArmLean_xt,gArmLean_xl,gArmLean_yt,gArmLean_yl],
 [gArmBone_overX,gArmBone_overY,gArmBone_underX,gArmBone_underY,gArmBone_xt,gArmBone_xl,gArmBone_yt,gArmBone_yl]
];

// pixel geometry: y-axis line x, x-axis line y, first/last x tick px, first/last y tick px
const geo=[
 [62,94.3,70,236.7,89.3,15],
 [282.3,94.3,285,437.3,93,28.3],
 [501.7,94.3,507.7,680,90,21.7],
 [62.3,222.5,70,221.7,219.7,152],
 [282.3,222.7,287.3,458.3,220,159.3],
 [502.7,222.7,525,675,215,147],
 [65,349.3,83.5,224.2,340.7,279.3],
 [273.4,349.3,295.4,453.6,346,275.2],
 [504.6,349.3,526.2,660.7,340.7,279.7],
 [61,573.3,76.7,240,567.3,501.7],
 [281.7,573.3,281.7,443,567.3,496.6],
 [500,574,511.7,666.7,568.3,494.3],
 [60.2,701.7,68.1,217.6,693.3,628.3],
 [285.7,701.7,287.9,446.2,700,626],
 [503.3,701.7,516.5,661.5,696,624.3],
 [61.5,828.7,63.7,236,817.3,756],
 [273.4,828.7,292.3,461.5,813.3,759.3],
 [498,828.7,516.5,684.5,810,751.7]
];
const colCenters=[152.5,372,592.5];
const rowTitleY=[8,134,262.7,484,612.7,741.7];
const EXT=40;

const traces=[];
const layout={width:W,height:H,margin:{l:0,r:0,t:0,b:0},paper_bgcolor:'#fff',plot_bgcolor:'rgba(0,0,0,0)',
  font:{family:FONT,color:'#000'},annotations:[],shapes:[],showlegend:false};

panels.forEach((p,i)=>{
  const k=i+1, sfx=k===1?'':String(k);
  const g=geo[i];
  const [gxv,gyv,rxv,ryv,xt,xl,yt,yl]=p;
  const xa=xt[0], xb=xt[xt.length-1], ya=yt[0], yb=yt[yt.length-1];
  traces.push({type:'scatter',mode:'markers',x:rxv,y:ryv,xaxis:'x'+sfx,yaxis:'y'+sfx,
    marker:{symbol:'circle',size:5.5,color:RED,line:{width:0}},hoverinfo:'skip'});
  traces.push({type:'scatter',mode:'markers',x:gxv,y:gyv,xaxis:'x'+sfx,yaxis:'y'+sfx,
    marker:{symbol:'triangle-up',size:7,color:GREEN,line:{width:0}},hoverinfo:'skip'});
  const sx=(g[3]-g[2])/(xb-xa), sy=(g[4]-g[5])/(yb-ya);
  const L=Math.max(0,g[2]-EXT), R=Math.min(W,g[3]+EXT);
  const B=Math.min(H,g[4]+EXT), T=Math.max(0,g[5]-EXT);
  const common={showline:false,ticks:'outside',ticklen:7,tickwidth:1,tickcolor:'#000',
    tickmode:'array',showgrid:false,zeroline:false,tickfont:{family:FONT,size:15,color:'#000'},fixedrange:true,anchor:'free'};
  layout['xaxis'+sfx]=Object.assign({},common,{domain:[L/W,R/W],range:[xa-(g[2]-L)/sx, xb+(R-g[3])/sx],
    position:1-g[1]/H,tickvals:xt,ticktext:xl});
  layout['yaxis'+sfx]=Object.assign({},common,{domain:[1-B/H,1-T/H],range:[ya-(B-g[4])/sy, yb+(g[5]-T)/sy],
    position:g[0]/W,tickvals:yt,ticktext:yl});
  layout.shapes.push({type:'line',xref:'x'+sfx,yref:'paper',x0:xa,x1:xb,y0:1-g[1]/H,y1:1-g[1]/H,line:{color:'#000',width:1}});
  layout.shapes.push({type:'line',xref:'paper',yref:'y'+sfx,x0:g[0]/W,x1:g[0]/W,y0:ya,y1:yb,line:{color:'#000',width:1}});
  layout.annotations.push({text:'<b>'+titles[i%9]+'</b>',xref:'paper',yref:'paper',x:colCenters[i%3]/W,y:1-rowTitleY[Math.floor(i/3)]/H,
    xanchor:'center',yanchor:'middle',showarrow:false,font:{family:FONT,size:12,color:'#000'}});
});

[[181,'Prediction',13,-90],[656,'Prediction',13,-90],[390,'Observation',372.5,0],[870,'Observation',371.5,0]].forEach(a=>{
  layout.annotations.push({text:a[1],xref:'paper',yref:'paper',x:a[2]/W,y:1-a[0]/H,xanchor:'center',yanchor:'middle',
    textangle:a[3],showarrow:false,font:{family:FONT,size:16.5,color:'#000'}});
});

const NB='\u00A0';
[[423,boysNames],[902.7,girlsNames]].forEach(l=>{
  layout.annotations.push({xref:'paper',yref:'paper',x:374.5/W,y:1-l[0]/H,xanchor:'center',yanchor:'middle',showarrow:false,
    text:NB+'<span style="color:'+GREEN+';font-size:10px">▲</span>'+NB+NB+l[1][0]+NB.repeat(4)+'<span style="color:'+RED+';font-size:10px">●</span>'+NB+NB+l[1][1]+NB,
    font:{family:FONT,size:8,color:'#000'},bordercolor:'#000',borderwidth:1,borderpad:4,bgcolor:'#fff'});
});

Plotly.newPlot('chart',traces,layout,{displayModeBar:false,staticPlot:true});
</script>
</body></html>
